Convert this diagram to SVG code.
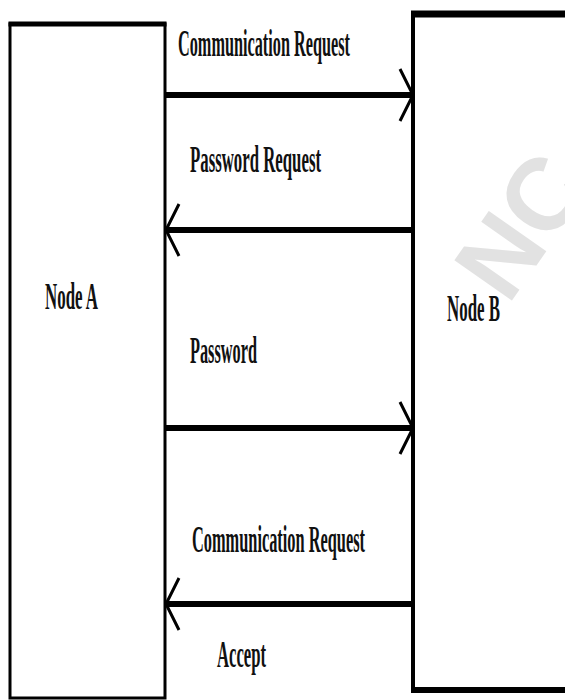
<svg xmlns="http://www.w3.org/2000/svg" width="565" height="700" viewBox="0 0 565 700">
  <style>
    .box { fill: none; stroke: #000000; }
    .edge { stroke: #000000; stroke-linecap: butt; }
    .lbl { font-family: "Liberation Serif", "Times New Roman", serif; font-size: 38px; font-weight: bold; fill: #111111; }
    .msg { stroke: #000000; stroke-width: 6; fill: none; marker-end: url(#chev); }
    .wm { font-family: "Liberation Sans", Arial, sans-serif; font-size: 102px; font-weight: bold; fill: #e2e2e2; }
  </style>
  <defs>
    <marker id="chev" markerUnits="userSpaceOnUse" viewBox="-16 -30 20 60" markerWidth="20" markerHeight="60" refX="0" refY="0" orient="auto">
      <path d="M-13,-26 L0,0 L-13,26" fill="none" stroke="#000000" stroke-width="3"/>
    </marker>
  </defs>
  <rect x="0" y="0" width="565" height="700" fill="#ffffff"/>

  <g id="watermark">
    <text class="wm" x="0" y="0" transform="translate(508,306) rotate(-55)">NC</text>
  </g>

  <g id="nodeA">
    <rect class="box" x="10" y="24" width="155" height="674" stroke-width="3"/>
    <line class="edge" x1="8.5" y1="24" x2="166.5" y2="24" stroke-width="5"/>
    <text class="lbl" transform="translate(45,309) scale(0.437,1)" textLength="121.3" lengthAdjust="spacingAndGlyphs">Node A</text>
  </g>

  <g id="nodeB">
    <rect class="box" x="413" y="14" width="170" height="676" stroke-width="4"/>
    <line class="edge" x1="411" y1="14" x2="565" y2="14" stroke-width="7"/>
    <line class="edge" x1="411" y1="690" x2="565" y2="690" stroke-width="6"/>
    <text class="lbl" transform="translate(447,321) scale(0.444,1)" textLength="119.4" lengthAdjust="spacingAndGlyphs">Node B</text>
  </g>

  <g id="connectors">
    <line class="msg" x1="166" y1="95" x2="413" y2="95"/>
    <text class="lbl" transform="translate(178,56) scale(0.428,1)" textLength="401.9" lengthAdjust="spacingAndGlyphs">Communication Request</text>

    <line class="msg" x1="413" y1="230" x2="166" y2="230"/>
    <text class="lbl" transform="translate(190,172) scale(0.442,1)" textLength="296.4" lengthAdjust="spacingAndGlyphs">Password Request</text>

    <line class="msg" x1="166" y1="428" x2="413" y2="428"/>
    <text class="lbl" transform="translate(190,363) scale(0.429,1)" textLength="156.2" lengthAdjust="spacingAndGlyphs">Password</text>

    <line class="msg" x1="413" y1="604" x2="166" y2="604"/>
    <text class="lbl" transform="translate(192,552) scale(0.430,1)" textLength="402.3" lengthAdjust="spacingAndGlyphs">Communication Request</text>

    <text class="lbl" transform="translate(217,667) scale(0.438,1)" textLength="111.9" lengthAdjust="spacingAndGlyphs">Accept</text>
  </g>
</svg>
